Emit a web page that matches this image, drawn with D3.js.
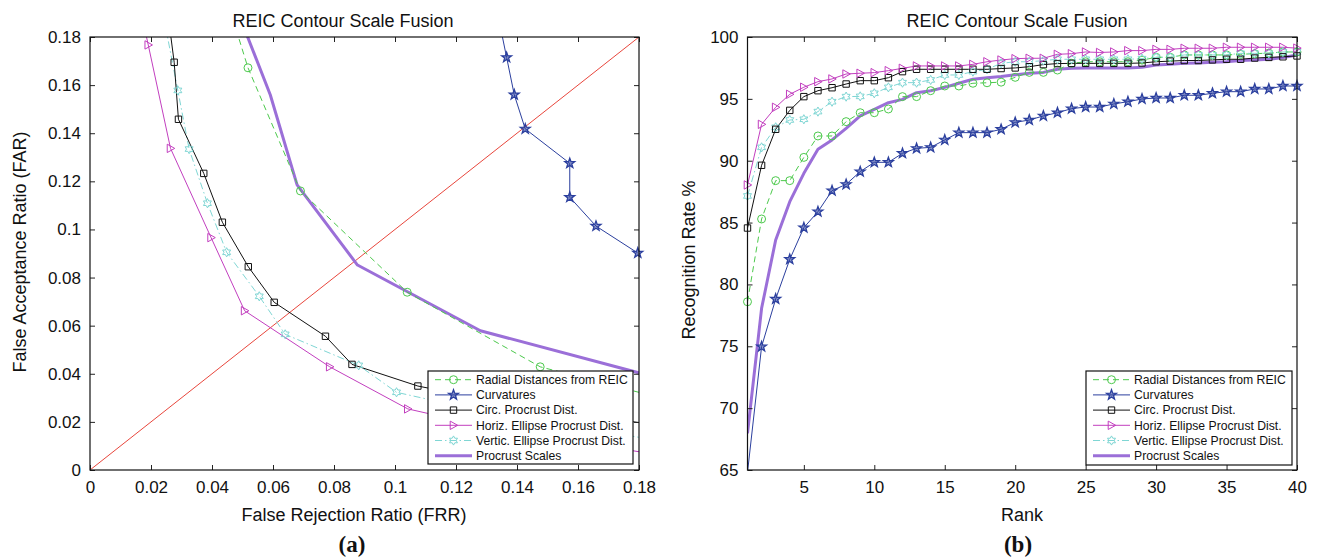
<!DOCTYPE html>
<html><head><meta charset="utf-8">
<script src="https://cdn.jsdelivr.net/npm/d3@7"></script>
<style>
body{margin:0;background:#fff}
text{font-family:"Liberation Sans",Arial,Helvetica,sans-serif;fill:#111}
</style>
</head><body><svg id="c" width="1318" height="560"></svg>
<script>
// ---------------- DATA ----------------
const seriesNames = ["Radial Distances from REIC","Curvatures","Circ. Procrust Dist.","Horiz. Ellipse Procrust Dist.","Vertic. Ellipse Procrust Dist.","Procrust Scales"];

// (a) ROC: FRR (x) / FAR (y)
const rocRadialFRR = [0.0450,0.0518,0.0690,0.1040,0.1476,0.1900];
const rocRadialFAR = [0.1950,0.1672,0.1160,0.0739,0.0429,0.0290];
const rocCurvFRR   = [0.1336,0.1366,0.1391,0.1427,0.1573,0.1573,0.1659,0.1796];
const rocCurvFAR   = [0.1900,0.1715,0.1560,0.1418,0.1275,0.1134,0.1014,0.0902];
const rocCircFRR   = [0.0255,0.0276,0.0290,0.0373,0.0434,0.0519,0.0604,0.0772,0.0859,0.1075,0.1350,0.2000];
const rocCircFAR   = [0.1900,0.1695,0.1458,0.1233,0.1030,0.0845,0.0697,0.0556,0.0439,0.0349,0.0280,0.0160];
const rocHorizFRR  = [0.0168,0.0191,0.0264,0.0397,0.0507,0.0786,0.1042,0.1300,0.1900];
const rocHorizFAR  = [0.1900,0.1767,0.1337,0.0966,0.0662,0.0429,0.0254,0.0180,0.0055];
const rocVertFRR   = [0.0239,0.0288,0.0325,0.0385,0.0448,0.0555,0.0640,0.0881,0.1005,0.1300,0.1900];
const rocVertFAR   = [0.1900,0.1578,0.1334,0.1109,0.0905,0.0722,0.0564,0.0435,0.0323,0.0240,0.0115];
const rocScalesFRR = [0.0486,0.0591,0.0679,0.0877,0.1280,0.1900];
const rocScalesFAR = [0.1900,0.1560,0.1185,0.0852,0.0579,0.0370];
const rocEERLine   = [0, 0.18];   // FAR = FRR reference line

// (b) CMC: rank vs recognition rate
const ranks = [1,2,3,4,5,6,7,8,9,10,11,12,13,14,15,16,17,18,19,20,21,22,23,24,25,26,27,28,29,30,31,32,33,34,35,36,37,38,39,40];
const cmcRadial = [78.6,85.29,88.39,88.39,90.27,92.0,92.0,93.16,93.88,93.88,94.18,95.18,95.18,95.66,96.04,96.04,96.26,96.3,96.35,96.74,97.14,97.14,97.33,97.87,98.0,98.0,98.0,98.0,98.13,98.36,98.36,98.55,98.55,98.55,98.55,98.6,98.65,98.7,98.79,98.79];
const cmcCurv   = [64.8,74.97,78.82,82.03,84.59,85.88,87.58,88.09,89.12,89.87,89.87,90.6,91.0,91.08,91.68,92.27,92.27,92.27,92.54,93.1,93.29,93.62,93.88,94.21,94.34,94.34,94.59,94.77,94.99,95.07,95.07,95.29,95.29,95.45,95.58,95.58,95.8,95.8,96.04,96.04];
const cmcCirc   = [84.56,89.63,92.54,94.07,95.18,95.66,95.9,96.2,96.47,96.47,96.71,97.2,97.39,97.39,97.39,97.39,97.39,97.39,97.45,97.5,97.6,97.77,97.85,97.87,97.87,97.87,97.87,97.87,97.9,98.0,98.05,98.1,98.1,98.15,98.2,98.2,98.3,98.35,98.4,98.47];
const cmcHoriz  = [88.04,92.94,94.32,95.37,95.94,96.39,96.61,97.01,97.07,97.12,97.28,97.47,97.66,97.66,97.66,97.66,97.79,98.0,98.14,98.25,98.28,98.28,98.6,98.65,98.79,98.75,98.79,98.9,98.9,99.0,99.0,99.09,99.09,99.09,99.17,99.17,99.17,99.17,99.17,99.1];
const cmcVert   = [87.15,91.08,92.7,93.29,93.35,93.97,94.77,95.18,95.2,95.45,95.93,96.31,96.31,96.53,96.93,96.93,97.2,97.39,97.87,98.0,98.0,98.09,98.2,98.2,98.2,98.2,98.2,98.2,98.25,98.36,98.36,98.55,98.55,98.55,98.55,98.68,98.68,98.68,98.79,98.79];
const cmcScales = [67.97,78.07,83.59,86.69,88.98,90.92,91.68,92.62,93.62,94.15,94.69,94.96,95.5,95.66,95.93,96.26,96.58,96.7,96.8,96.95,97.07,97.14,97.39,97.47,97.5,97.5,97.5,97.5,97.55,97.74,97.8,97.87,97.9,97.95,98.0,98.1,98.15,98.2,98.35,98.55];

const rocTicks = [0,0.02,0.04,0.06,0.08,0.1,0.12,0.14,0.16,0.18];
const cmcXTicks = [5,10,15,20,25,30,35,40];
const cmcYTicks = [65,70,75,80,85,90,95,100];

// ---------------- STYLE ----------------
const styles = [
  {color:"#4cc94c", dash:"6,4",      width:1,   marker:"circle"},
  {color:"#2b3f9e", dash:null,       width:1,   marker:"star"},
  {color:"#111111", dash:null,       width:1,   marker:"square"},
  {color:"#c23fbf", dash:null,       width:1,   marker:"triRight"},
  {color:"#7fd6d4", dash:"7,3,1.5,3",width:1,   marker:"hexagram"},
  {color:"#9b6fd8", dash:null,       width:3,   marker:null}
];

const svg = d3.select("#c");

function starPath(n, R, r){
  const pts=[];
  for(let i=0;i<2*n;i++){
    const a = -Math.PI/2 + i*Math.PI/n;
    const rad = i%2===0?R:r;
    pts.push([rad*Math.cos(a), rad*Math.sin(a)]);
  }
  return "M"+pts.map(p=>p[0].toFixed(2)+","+p[1].toFixed(2)).join("L")+"Z";
}
function markerPath(type){
  switch(type){
    case "circle": return d3.symbol(d3.symbolCircle, 50)();
    case "square": return "M-3.2,-3.2L3.2,-3.2L3.2,3.2L-3.2,3.2Z";
    case "triRight": return "M4.2,0L-3.3,-4.2L-3.3,4.2Z";
    case "star": return starPath(5, 5.2, 2.1);
    case "hexagram": return starPath(6, 4.6, 2.6);
  }
  return null;
}

function drawMarkers(g, pts, st){
  if(!st.marker) return;
  const p = markerPath(st.marker);
  g.selectAll(null).data(pts).enter().append("path")
    .attr("d", p)
    .attr("transform", d=>`translate(${d[0]},${d[1]})`)
    .attr("fill", st.marker==="star" ? st.color : "none")
    .attr("fill-opacity", st.marker==="star" ? 0.55 : 1)
    .attr("stroke", st.color)
    .attr("stroke-width", st.marker==="star" ? 1.3 : 1);
}

function drawAxesBox(g, x, y, xt, yt, fmt){
  const [x0,x1]=x.range(), [y0,y1]=y.range();
  const tl = 5;
  const ax = g.append("g");
  ax.append("g").attr("transform",`translate(0,${y0})`)
    .call(d3.axisBottom(x).tickValues(xt).tickSize(-tl).tickPadding(9).tickFormat(fmt))
    .call(s=>{s.select(".domain").remove(); s.selectAll("text").attr("font-size",17).attr("dy","0.85em");});
  ax.append("g").attr("transform",`translate(0,${y1})`)
    .call(d3.axisTop(x).tickValues(xt).tickSize(-tl).tickFormat(""))
    .call(s=>s.select(".domain").remove());
  ax.append("g").attr("transform",`translate(${x0},0)`)
    .call(d3.axisLeft(y).tickValues(yt).tickSize(-tl).tickPadding(9).tickFormat(fmt))
    .call(s=>{s.select(".domain").remove(); s.selectAll("text").attr("font-size",17);});
  ax.append("g").attr("transform",`translate(${x1},0)`)
    .call(d3.axisRight(y).tickValues(yt).tickSize(-tl).tickFormat(""))
    .call(s=>s.select(".domain").remove());
  ax.selectAll(".tick line").attr("stroke","#222");
  ax.selectAll(".tick text").attr("fill","#111").attr("font-family","'Liberation Sans',Arial,sans-serif");
  g.append("rect").attr("x",x0).attr("y",y1).attr("width",x1-x0).attr("height",y0-y1)
    .attr("fill","none").attr("stroke","#111").attr("stroke-width",1.2);
}

function drawLegend(g, x0, y0, w, h, sampleX0, sampleX1, textX){
  g.append("rect").attr("x",x0).attr("y",y0).attr("width",w).attr("height",h)
    .attr("fill","#fff").attr("stroke","#111").attr("stroke-width",1.2);
  seriesNames.forEach((name,i)=>{
    const st = styles[i];
    const yy = y0 + 8.7 + i*15.2;
    g.append("line").attr("x1",sampleX0).attr("x2",sampleX1).attr("y1",yy).attr("y2",yy)
      .attr("stroke",st.color).attr("stroke-width",st.width).attr("stroke-dasharray",st.dash);
    drawMarkers(g, [[(sampleX0+sampleX1)/2, yy]], st);
    g.append("text").attr("x",textX).attr("y",yy).attr("dy","0.36em")
      .attr("font-size",12.2).text(name);
  });
}

// ---------------- PANEL (a) ----------------
(function(){
  const x = d3.scaleLinear().domain([0,0.18]).range([90,639]);
  const y = d3.scaleLinear().domain([0,0.18]).range([470,37]);
  const g = svg.append("g");
  const fmt = d => d===0 ? "0" : String(+d.toFixed(2));
  svg.append("clipPath").attr("id","clipA").append("rect")
    .attr("x",90).attr("y",37).attr("width",549).attr("height",433);
  const plot = g.append("g").attr("clip-path","url(#clipA)");
  plot.append("line").attr("x1",x(rocEERLine[0])).attr("y1",y(rocEERLine[0]))
    .attr("x2",x(rocEERLine[1])).attr("y2",y(rocEERLine[1]))
    .attr("stroke","#e8463c").attr("stroke-width",1);
  const sets = [
    [rocRadialFRR,rocRadialFAR],[rocCurvFRR,rocCurvFAR],[rocCircFRR,rocCircFAR],
    [rocHorizFRR,rocHorizFAR],[rocVertFRR,rocVertFAR],[rocScalesFRR,rocScalesFAR]];
  const order = [5,0,4,2,3,1];
  order.forEach(i=>{
    const st = styles[i];
    const pts = sets[i][0].map((v,k)=>[x(v), y(sets[i][1][k])]);
    plot.append("path").attr("d", d3.line()(pts))
      .attr("fill","none").attr("stroke",st.color).attr("stroke-width",st.width)
      .attr("stroke-dasharray",st.dash).attr("stroke-linejoin","round");
    const inside = sets[i][0].map((v,k)=>[v,sets[i][1][k]])
      .filter(d=>d[0]>=0&&d[0]<=0.18&&d[1]>=0&&d[1]<=0.18).map(d=>[x(d[0]),y(d[1])]);
    drawMarkers(g, inside, st);
  });
  drawAxesBox(g, x, y, rocTicks, rocTicks, fmt);
  drawLegend(g, 428, 371, 205, 93, 435, 472, 476);
  g.append("text").attr("x",343).attr("y",27).attr("text-anchor","middle").attr("font-size",18).text("REIC Contour Scale Fusion");
  g.append("text").attr("x",354).attr("y",521).attr("text-anchor","middle").attr("font-size",18).text("False Rejection Ratio (FRR)");
  g.append("text").attr("transform","translate(26,252) rotate(-90)").attr("text-anchor","middle").attr("font-size",18).text("False Acceptance Ratio (FAR)");
  g.append("text").attr("x",352).attr("y",552).attr("text-anchor","middle").attr("font-size",23)
    .attr("font-weight","bold").style("font-family","'Liberation Serif','Times New Roman',serif").text("(a)");
})();

// ---------------- PANEL (b) ----------------
(function(){
  const x = d3.scaleLinear().domain([1,40]).range([747.5,1297]);
  const y = d3.scaleLinear().domain([65,100]).range([470,37]);
  const g = svg.append("g");
  svg.append("clipPath").attr("id","clipB").append("rect")
    .attr("x",747.5).attr("y",30).attr("width",560).attr("height",440);
  const plot = g.append("g").attr("clip-path","url(#clipB)");
  const sets = [cmcRadial,cmcCurv,cmcCirc,cmcHoriz,cmcVert,cmcScales];
  const order = [5,1,0,4,2,3];
  order.forEach(i=>{
    const st = styles[i];
    const pts = ranks.map((r,k)=>[x(r), y(sets[i][k])]);
    plot.append("path").attr("d", d3.line()(pts))
      .attr("fill","none").attr("stroke",st.color).attr("stroke-width",st.width)
      .attr("stroke-dasharray",st.dash).attr("stroke-linejoin","round");
    const inside = ranks.map((r,k)=>[r,sets[i][k]]).filter(d=>d[1]>=65).map(d=>[x(d[0]),y(d[1])]);
    drawMarkers(g, inside, st);
  });
  drawAxesBox(g, x, y, cmcXTicks, cmcYTicks, d=>String(d));
  drawLegend(g, 1086, 371, 206, 94, 1093, 1130, 1134);
  g.append("text").attr("x",1017).attr("y",27).attr("text-anchor","middle").attr("font-size",18).text("REIC Contour Scale Fusion");
  g.append("text").attr("x",1022).attr("y",521).attr("text-anchor","middle").attr("font-size",18).text("Rank");
  g.append("text").attr("transform","translate(695,260) rotate(-90)").attr("text-anchor","middle").attr("font-size",18).text("Recognition Rate %");
  g.append("text").attr("x",1018).attr("y",552).attr("text-anchor","middle").attr("font-size",23)
    .attr("font-weight","bold").style("font-family","'Liberation Serif','Times New Roman',serif").text("(b)");
})();
</script></body></html>
